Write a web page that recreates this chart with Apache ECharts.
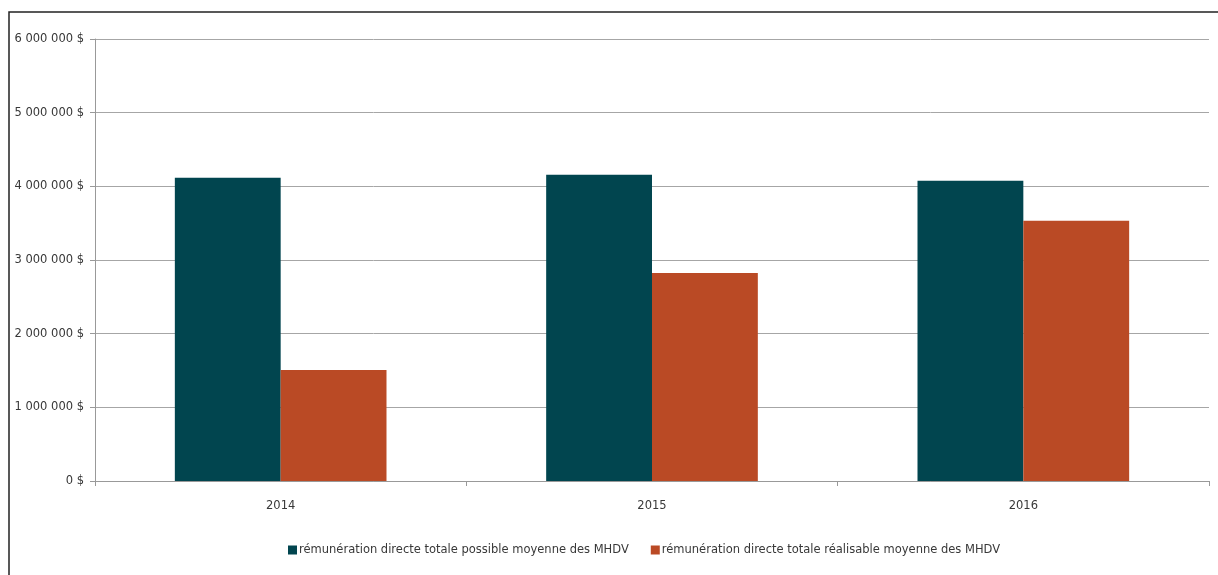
<!DOCTYPE html>
<html>
<head>
<meta charset="utf-8">
<script src="https://cdn.jsdelivr.net/npm/echarts@6/dist/echarts.min.js"></script>
<style>
html,body{margin:0;padding:0;background:#fff;}
#chart{width:1218px;height:575px;}
</style>
</head>
<body>
<div id="chart"></div>
<script>
var categories = ['2014', '2015', '2016'];
var seriesNames = [
  'rémunération directe totale possible moyenne des MHDV',
  'rémunération directe totale réalisable moyenne des MHDV'
];
var possibleValues = [4115000, 4156000, 4075000];
var realisableValues = [1507000, 2824000, 3532000];
var yTicks = { min: 0, max: 6000000, interval: 1000000 };

function fmt(v) {
  return String(v).replace(/\B(?=(\d{3})+(?!\d))/g, ' ') + ' $';
}

var chart = echarts.init(document.getElementById('chart'));
var txt = { fontFamily: 'DejaVu Sans, Verdana, sans-serif', fontSize: 11.5, color: '#383838' };
chart.setOption({
  animation: false,
  graphic: [{
    type: 'rect',
    shape: { x: 9, y: 12, width: 1400, height: 800 },
    style: { fill: 'none', stroke: '#222', lineWidth: 1.5 },
    silent: true
  }],
  grid: { left: 95, right: 9, top: 39, bottom: 94 },
  legend: {
    top: 544,
    left: 288,
    padding: 0,
    itemWidth: 9,
    itemHeight: 9,
    itemGap: 22,
    icon: 'rect',
    textStyle: Object.assign({}, txt, { padding: [0, 0, 0, -3] }),
    data: seriesNames
  },
  xAxis: {
    type: 'category',
    data: categories,
    axisLine: { lineStyle: { color: '#999', width: 1 } },
    axisTick: { show: true, length: 5, lineStyle: { color: '#999' } },
    axisLabel: Object.assign({}, txt, { margin: 19 })
  },
  yAxis: {
    type: 'value',
    min: yTicks.min,
    max: yTicks.max,
    interval: yTicks.interval,
    axisLine: { show: true, lineStyle: { color: '#999', width: 1 } },
    axisTick: { show: true, length: 5, lineStyle: { color: '#999' } },
    splitLine: { lineStyle: { color: '#a6a6a6', width: 1 } },
    axisLabel: Object.assign({}, txt, { margin: 11, formatter: fmt })
  },
  series: [
    {
      name: seriesNames[0],
      type: 'bar',
      data: possibleValues,
      itemStyle: { color: '#01454F' },
      barGap: '0%',
      barCategoryGap: '43%'
    },
    {
      name: seriesNames[1],
      type: 'bar',
      data: realisableValues,
      itemStyle: { color: '#BA4A25' },
      barGap: '0%',
      barCategoryGap: '43%'
    }
  ]
});
</script>
</body>
</html>
